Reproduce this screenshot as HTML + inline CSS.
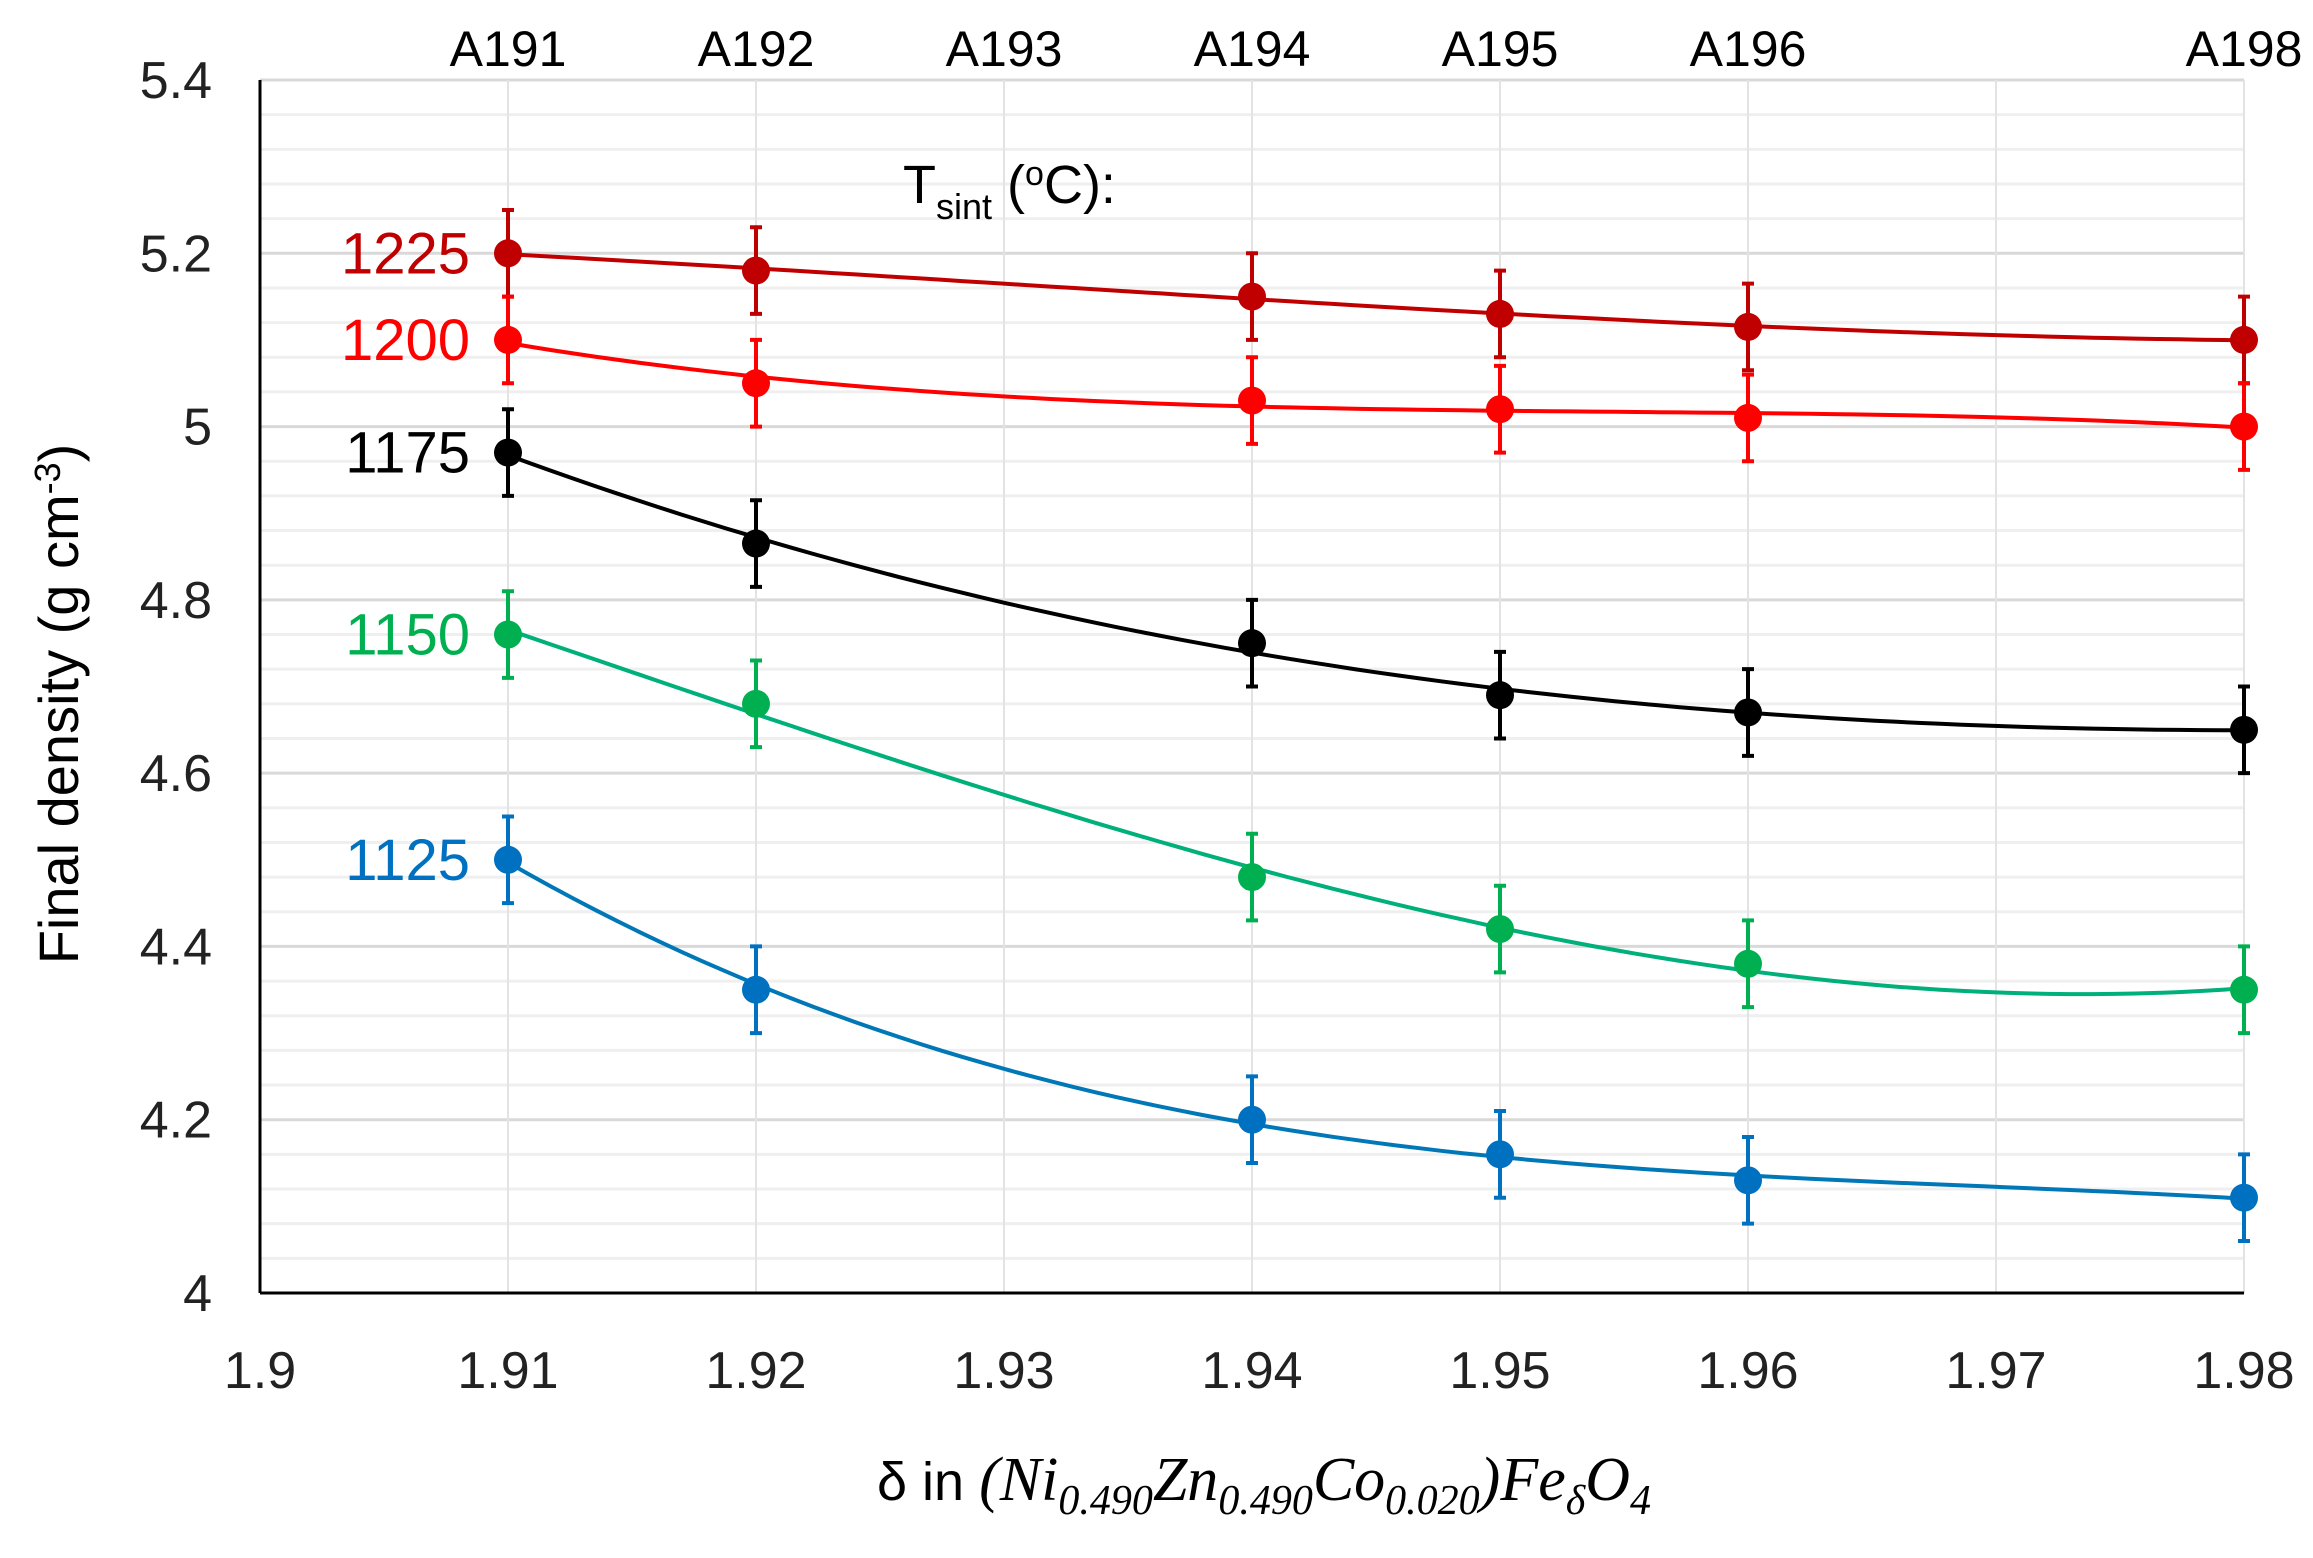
<!DOCTYPE html>
<html><head><meta charset="utf-8"><style>
html,body{margin:0;padding:0;background:#fff;}
svg{display:block;font-family:"Liberation Sans",sans-serif;}
</style></head><body>
<svg id="chart" width="2313" height="1558" viewBox="0 0 2313 1558" xmlns="http://www.w3.org/2000/svg">
<rect width="2313" height="1558" fill="#fff"/>
<g id="grid"></g>
<g id="axes"></g>
<g id="series"></g>
<text x="903" y="203" font-size="54" fill="#000">T<tspan font-size="36" dy="16">sint</tspan><tspan dy="-16"> (</tspan><tspan font-size="34" dy="-18">o</tspan><tspan dy="18">C):</tspan></text>
<text transform="translate(78,704) rotate(-90)" text-anchor="middle" font-size="56" fill="#000">Final density (g cm<tspan font-size="36" dy="-18">-3</tspan><tspan dy="18">)</tspan></text>
<text x="877" y="1500" font-size="54" fill="#000">δ in <tspan font-family="Liberation Serif,serif" font-style="italic" font-size="62">(Ni<tspan font-size="42" dy="14">0.490</tspan><tspan dy="-14">Zn</tspan><tspan font-size="42" dy="14">0.490</tspan><tspan dy="-14">Co</tspan><tspan font-size="42" dy="14">0.020</tspan><tspan dy="-14">)Fe</tspan><tspan font-size="42" dy="14">δ</tspan><tspan dy="-14">O</tspan><tspan font-size="42" dy="14">4</tspan></tspan></text>
</svg>
<script>
const xTicks = [1.9,1.91,1.92,1.93,1.94,1.95,1.96,1.97,1.98];
const yTicks = [4,4.2,4.4,4.6,4.8,5,5.2,5.4];
const topLabels = ["A191","A192","A193","A194","A195","A196","A198"];
const topLabelX = [1.91,1.92,1.93,1.94,1.95,1.96,1.98];
const xVals = [1.91,1.92,1.94,1.95,1.96,1.98];
const seriesNames = ["1225","1200","1175","1150","1125"];
const s1225 = [5.20,5.18,5.15,5.13,5.115,5.10];
const s1200 = [5.10,5.05,5.03,5.02,5.01,5.00];
const s1175 = [4.97,4.865,4.75,4.69,4.67,4.65];
const s1150 = [4.76,4.68,4.48,4.42,4.38,4.35];
const s1125 = [4.50,4.35,4.20,4.16,4.13,4.11];
const errVal = 0.05;
const colors = ["#c00000","#ff0000","#000000","#00b050","#0070c0"];
const lineColors = ["#c00000","#ff0000","#000000","#00b07a","#0078b8"];

const X0=260, X1=2244, Y0=1293, Y1=80;
const xs = v => X0 + (v-1.9)/(0.08)*(X1-X0);
const ys = v => Y0 - (v-4)/(1.4)*(Y0-Y1);
const NS="http://www.w3.org/2000/svg";
function mk(tag, attrs, parent){const e=document.createElementNS(NS,tag);for(const k in attrs)e.setAttribute(k,attrs[k]);parent.appendChild(e);return e;}
const grid=document.getElementById('grid'), axes=document.getElementById('axes'), ser=document.getElementById('series');

for(let i=0;i<=35;i++){
  const v=4+i*0.04;
  const major = i%5===0;
  const l=mk('line',{x1:X0,x2:X1,y1:ys(v),y2:ys(v),stroke:major?'#d9d9d9':'#efefef','stroke-width':3},grid);
  
  
}
xTicks.forEach(v=>{
  if(v===1.9) return;
  const l=mk('line',{x1:xs(v),x2:xs(v),y1:Y1,y2:Y0,stroke:'#e3e3e3','stroke-width':2},grid);
  
  
});
let ax=mk('line',{x1:X0,x2:X0,y1:Y1,y2:Y0,stroke:'#000','stroke-width':3},axes);


ax=mk('line',{x1:X0,x2:X1,y1:Y0,y2:Y0,stroke:'#000','stroke-width':3},axes);


xTicks.forEach(v=>{
  const t=mk('text',{x:xs(v),y:1388,'text-anchor':'middle','font-size':52,fill:'#222'},axes);
  t.textContent=String(v);
  
  
});
yTicks.forEach(v=>{
  const t=mk('text',{x:212,y:ys(v)+18,'text-anchor':'end','font-size':52,fill:'#222'},axes);
  t.textContent=String(v);
  
  
});
topLabels.forEach((s,i)=>{
  const t=mk('text',{x:xs(topLabelX[i]),y:66,'text-anchor':'middle','font-size':50,fill:'#000'},axes);
  t.textContent=s;
  
  
});

// least-squares cubic trend line
function polyFit(xv, yv, deg){
  const n=xv.length, m=1.9, N=deg+1;
  const A=[];
  for(let r=0;r<N;r++){A.push(new Array(N+1).fill(0));}
  for(let i=0;i<n;i++){
    const u=(xv[i]-m)*100;
    for(let r=0;r<N;r++){for(let c=0;c<N;c++)A[r][c]+=Math.pow(u,r+c);A[r][N]+=Math.pow(u,r)*yv[i];}
  }
  for(let c=0;c<N;c++){for(let r=c+1;r<N;r++){const f=A[r][c]/A[c][c];for(let k=c;k<=N;k++)A[r][k]-=f*A[c][k];}}
  const b=new Array(N).fill(0);
  for(let r=N-1;r>=0;r--){let s=A[r][N];for(let k=r+1;k<N;k++)s-=A[r][k]*b[k];b[r]=s/A[r][r];}
  return x=>{const u=(x-m)*100;let s=0;for(let k=0;k<N;k++)s+=b[k]*Math.pow(u,k);return s;};
}
const all=[s1225,s1200,s1175,s1150,s1125];
all.forEach((data,si)=>{
  const g=mk('g',{},ser);
  
  
  const f=polyFit(xVals,data,3);
  let d='';
  const xa=xVals[0], xb=xVals[xVals.length-1];
  for(let k=0;k<=80;k++){const x=xa+(xb-xa)*k/80;d+=(k?'L':'M')+xs(x).toFixed(1)+','+ys(f(x)).toFixed(1);}
  const p=mk('path',{d:d,fill:'none',stroke:lineColors[si],'stroke-width':4},g);
  
  
  xVals.forEach((x,i)=>{
    const cx=xs(x), yt=ys(data[i]+errVal), yb=ys(data[i]-errVal);
    const eb=mk('path',{d:`M${cx},${yt}V${yb}M${cx-6},${yt}H${cx+6}M${cx-6},${yb}H${cx+6}`,stroke:colors[si],'stroke-width':4,fill:'none'},g);
    
    
    const c=mk('circle',{cx:cx,cy:ys(data[i]),r:14,fill:colors[si]},g);
    
    
  });
  const t=mk('text',{x:470,y:ys(data[0])+20,'text-anchor':'end','font-size':58,fill:colors[si]},g);
  t.textContent=seriesNames[si];
  
  
});
</script>
</body></html>
